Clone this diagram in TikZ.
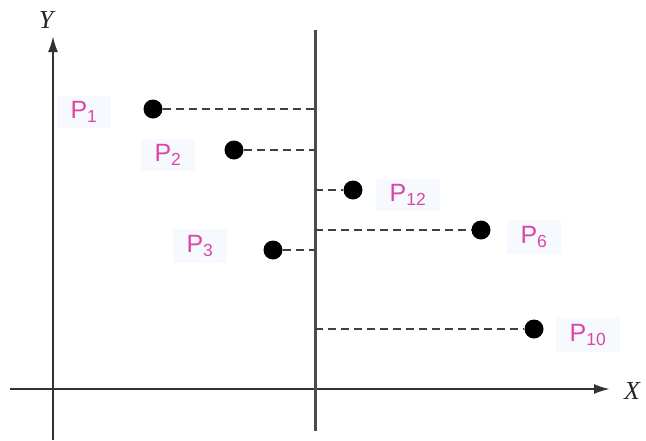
\documentclass[tikz,border=0pt]{standalone}
\usepackage{fontspec}
\setmainfont{Liberation Serif}
\newfontfamily\lblfont{Liberation Sans}
\usetikzlibrary{arrows.meta}
\definecolor{pcol}{RGB}{222,70,165}
\definecolor{lblbg}{RGB}{246,249,254}
\tikzset{
  axis/.style={line width=2.2pt, draw=black!80, -{Latex[length=16pt,width=10pt]}},
  divline/.style={line width=3pt, draw=black!70},
  proj/.style={line width=2.4pt, draw=black!75, dash pattern=on 8pt off 5pt},
  dot/.style={circle, fill=black, inner sep=0pt, minimum size=19pt},
  plbl/.style={font=\lblfont\fontsize{25}{27}\selectfont, text=pcol, fill=lblbg, inner xsep=14pt, inner ysep=6pt},
  axlbl/.style={font=\itshape\fontsize{26}{28}\selectfont, text=black!85}
}
\begin{document}
\begin{tikzpicture}[x=1pt,y=-1pt]
\useasboundingbox (0,0) rectangle (646,440);
% label nodes (backgrounds first)
\node[plbl] (l1) at (84,112) {P\textsubscript{1}};
\node[plbl] (l2) at (168,155) {P\textsubscript{2}};
\node[plbl] (l12) at (408,195) {P\textsubscript{12}};
\node[plbl] (l6) at (534,237) {P\textsubscript{6}};
\node[plbl] (l3) at (200,246) {P\textsubscript{3}};
\node[plbl] (l10) at (588,335) {P\textsubscript{10}};
% axes
\coordinate (ybot) at (53,440);
\coordinate (ytop) at (53,36);
\coordinate (xl) at (10,389);
\coordinate (xr) at (610,389);
\draw[axis] (ybot) -- (ytop);
\draw[axis] (xl) -- (xr);
\node[axlbl] (ylab) at (46,20) {Y};
\node[axlbl] (xlab) at (632,391) {X};
% divider
\coordinate (dtop) at (315,30);
\coordinate (dbot) at (315,431);
\draw[divline] (dtop) -- (dbot);
% projection feet
\coordinate (f1) at (315,109);
\coordinate (f2) at (315,150);
\coordinate (f12) at (315,190);
\coordinate (f6) at (315,230);
\coordinate (f3) at (315,250);
\coordinate (f10) at (315,329);
% points
\node[dot] (p1) at (153,109) {};
\node[dot] (p2) at (234,150) {};
\node[dot] (p12) at (353,190) {};
\node[dot] (p6) at (481,230) {};
\node[dot] (p3) at (273,250) {};
\node[dot] (p10) at (534,329) {};
\draw[proj] (p1) -- (f1);
\draw[proj] (p2) -- (f2);
\draw[proj] (f12) -- (p12);
\draw[proj] (f6) -- (p6);
\draw[proj] (p3) -- (f3);
\draw[proj] (f10) -- (p10);
\end{tikzpicture}
\end{document}
